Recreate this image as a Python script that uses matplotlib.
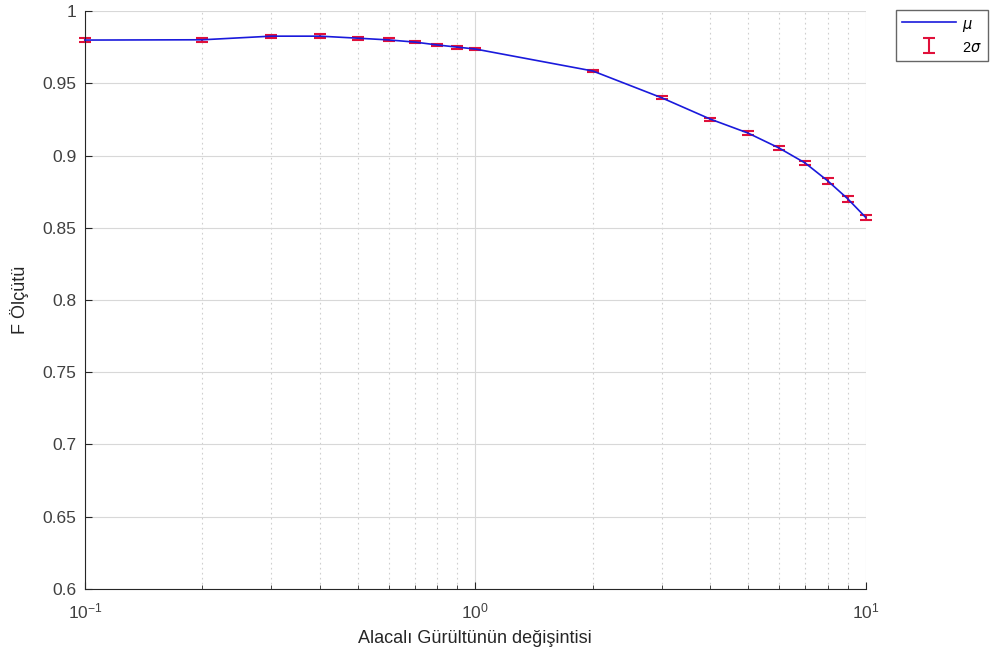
import numpy as np
import matplotlib.pyplot as plt
from matplotlib.ticker import FixedLocator, NullFormatter

plt.rcParams['font.family'] = ['Liberation Sans', 'DejaVu Sans']
plt.rcParams['mathtext.fontset'] = 'custom'
plt.rcParams['mathtext.rm'] = 'Liberation Sans'

# noise variance values and F-measure mean / 2 sigma
x = [0.1, 0.2, 0.3, 0.4, 0.5, 0.6, 0.7, 0.8, 0.9, 1, 2, 3, 4, 5, 6, 7, 8, 9, 10]
mu = [0.9799, 0.9801, 0.9826, 0.9826, 0.9812, 0.9800, 0.9785, 0.9765, 0.9750, 0.9737,
      0.9585, 0.9400, 0.9252, 0.9155, 0.9052, 0.8948, 0.8824, 0.8700, 0.8572]
err = [0.0012, 0.0014, 0.0010, 0.0014, 0.0010, 0.0010, 0.0006, 0.0008, 0.0010, 0.0006,
       0.0008, 0.0010, 0.0010, 0.0012, 0.0012, 0.0016, 0.0018, 0.0020, 0.0018]

fig = plt.figure(figsize=(9.95, 6.6), dpi=100)
ax = fig.add_axes([0.0854, 0.1076, 0.7846, 0.8757])

line, = ax.plot(x, mu, color='#1a1adc', lw=1.2, label=r'$\mu$', clip_on=False, zorder=3)
eb = ax.errorbar(x, mu, yerr=err, fmt='none', ecolor='#e0103a', elinewidth=1.5,
                 capsize=4, capthick=1.5, label=r'$2\sigma$', zorder=2)
for c in eb.get_children():
    c.set_clip_on(False)

ax.set_xscale('log')
ax.set_xlim(0.1, 10)
ax.set_ylim(0.6, 1.0)
ax.set_yticks(np.arange(0.6, 1.001, 0.05))
ax.set_yticklabels(['0.6', '0.65', '0.7', '0.75', '0.8', '0.85', '0.9', '0.95', '1'])
ax.xaxis.set_minor_locator(FixedLocator([v * d for d in (0.1, 1) for v in range(2, 10)]))
ax.xaxis.set_minor_formatter(NullFormatter())

ax.grid(True, which='major', color='#d8d8d8', lw=0.8, ls='-')
ax.grid(True, which='minor', axis='x', color='#cfcfcf', lw=0.8, ls=(0, (1.5, 3)))
ax.set_axisbelow(True)

for s in ('top', 'right'):
    ax.spines[s].set_visible(False)
ax.spines['left'].set_color('#262626')
ax.spines['bottom'].set_color('#262626')
ax.tick_params(which='both', direction='in', colors='#262626', labelsize=12.5, top=False, right=False)
ax.tick_params(which='both', labelcolor='#404040')
ax.tick_params(which='major', length=5)
ax.tick_params(which='minor', length=3)
ax.tick_params(axis='y', pad=6)
ax.tick_params(axis='x', pad=9)

ax.set_xlabel('Alacalı Gürültünün değişintisi', fontsize=13, color='#262626', labelpad=6)
ax.set_ylabel('F Ölçütü', fontsize=13, color='#262626', labelpad=10)

leg = ax.legend(handles=[line, eb], loc='upper left', bbox_to_anchor=(1.0395, 1.002),
                frameon=True, fancybox=False, edgecolor='#404040', fontsize=10.5,
                handlelength=3.7, handleheight=1.3, handletextpad=0.4,
                borderpad=0.4, labelspacing=0.4, borderaxespad=0)
leg.get_frame().set_linewidth(1.0)

fig.savefig('out.png', dpi=100)
